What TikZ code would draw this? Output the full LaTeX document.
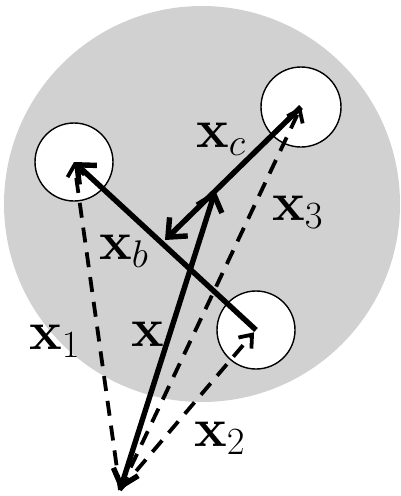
\RequirePackage{fix-cm}
\documentclass[tikz,border=0pt]{standalone}
\usetikzlibrary{arrows.meta,calc}
\definecolor{disc}{RGB}{209,209,209}
\begin{document}
\begin{tikzpicture}[x=1pt,y=-1pt,
  bigtip/.style={Straight Barb[length=15pt,width=26pt]},
  solidarrow/.style={line width=5.4pt,-{Straight Barb[length=15pt,width=26pt]}},
  dasharrow/.style={line width=3.8pt,dash pattern=on 15pt off 10pt,-{Straight Barb[length=11pt,width=17pt]}},
  hole/.style={circle,draw=black,line width=1.4pt,fill=white,inner sep=0pt},
  lbl/.style={inner sep=0pt,anchor=base west,font=\fontsize{55}{60}\selectfont}]
\useasboundingbox (0,0) rectangle (401,496);
\fill[disc] (202,204) circle (198);
\node[hole,minimum size=78pt] (c1) at (74,162) {};
\node[hole,minimum size=80pt] (c3) at (301,107) {};
\node[hole,minimum size=78pt] (c2) at (256,330) {};
\coordinate (o) at (120,490);
\coordinate (p) at (165,240);
\coordinate (q) at ($(c3.center)!0.63!(p)$);
% dashed
\draw[dasharrow] (o) -- (c1.center);
\draw[dasharrow,shorten >=3pt] (o) -- (c2.center);
\draw[dasharrow] (o) -- (c3.center);
% solid
\draw[solidarrow] (c2.center) -- (c1.center);
\draw[solidarrow] (c3.center) -- (p);
\draw[line width=5.4pt,{Straight Barb[length=15pt,width=26pt]}-{Straight Barb[length=15pt,width=26pt]}] (o) -- (q);
% labels
\node[lbl] (lc) at (196,147) {$\mathbf{x}_c$};
\node[lbl] (l3) at (272,220) {$\mathbf{x}_3$};
\node[lbl] (lb) at (99,259) {$\mathbf{x}_b$};
\node[lbl] (lx) at (131,346) {$\mathbf{x}$};
\node[lbl] (l1) at (29,349) {$\mathbf{x}_1$};
\node[lbl] (l2) at (194,446) {$\mathbf{x}_2$};
\end{tikzpicture}
\end{document}
